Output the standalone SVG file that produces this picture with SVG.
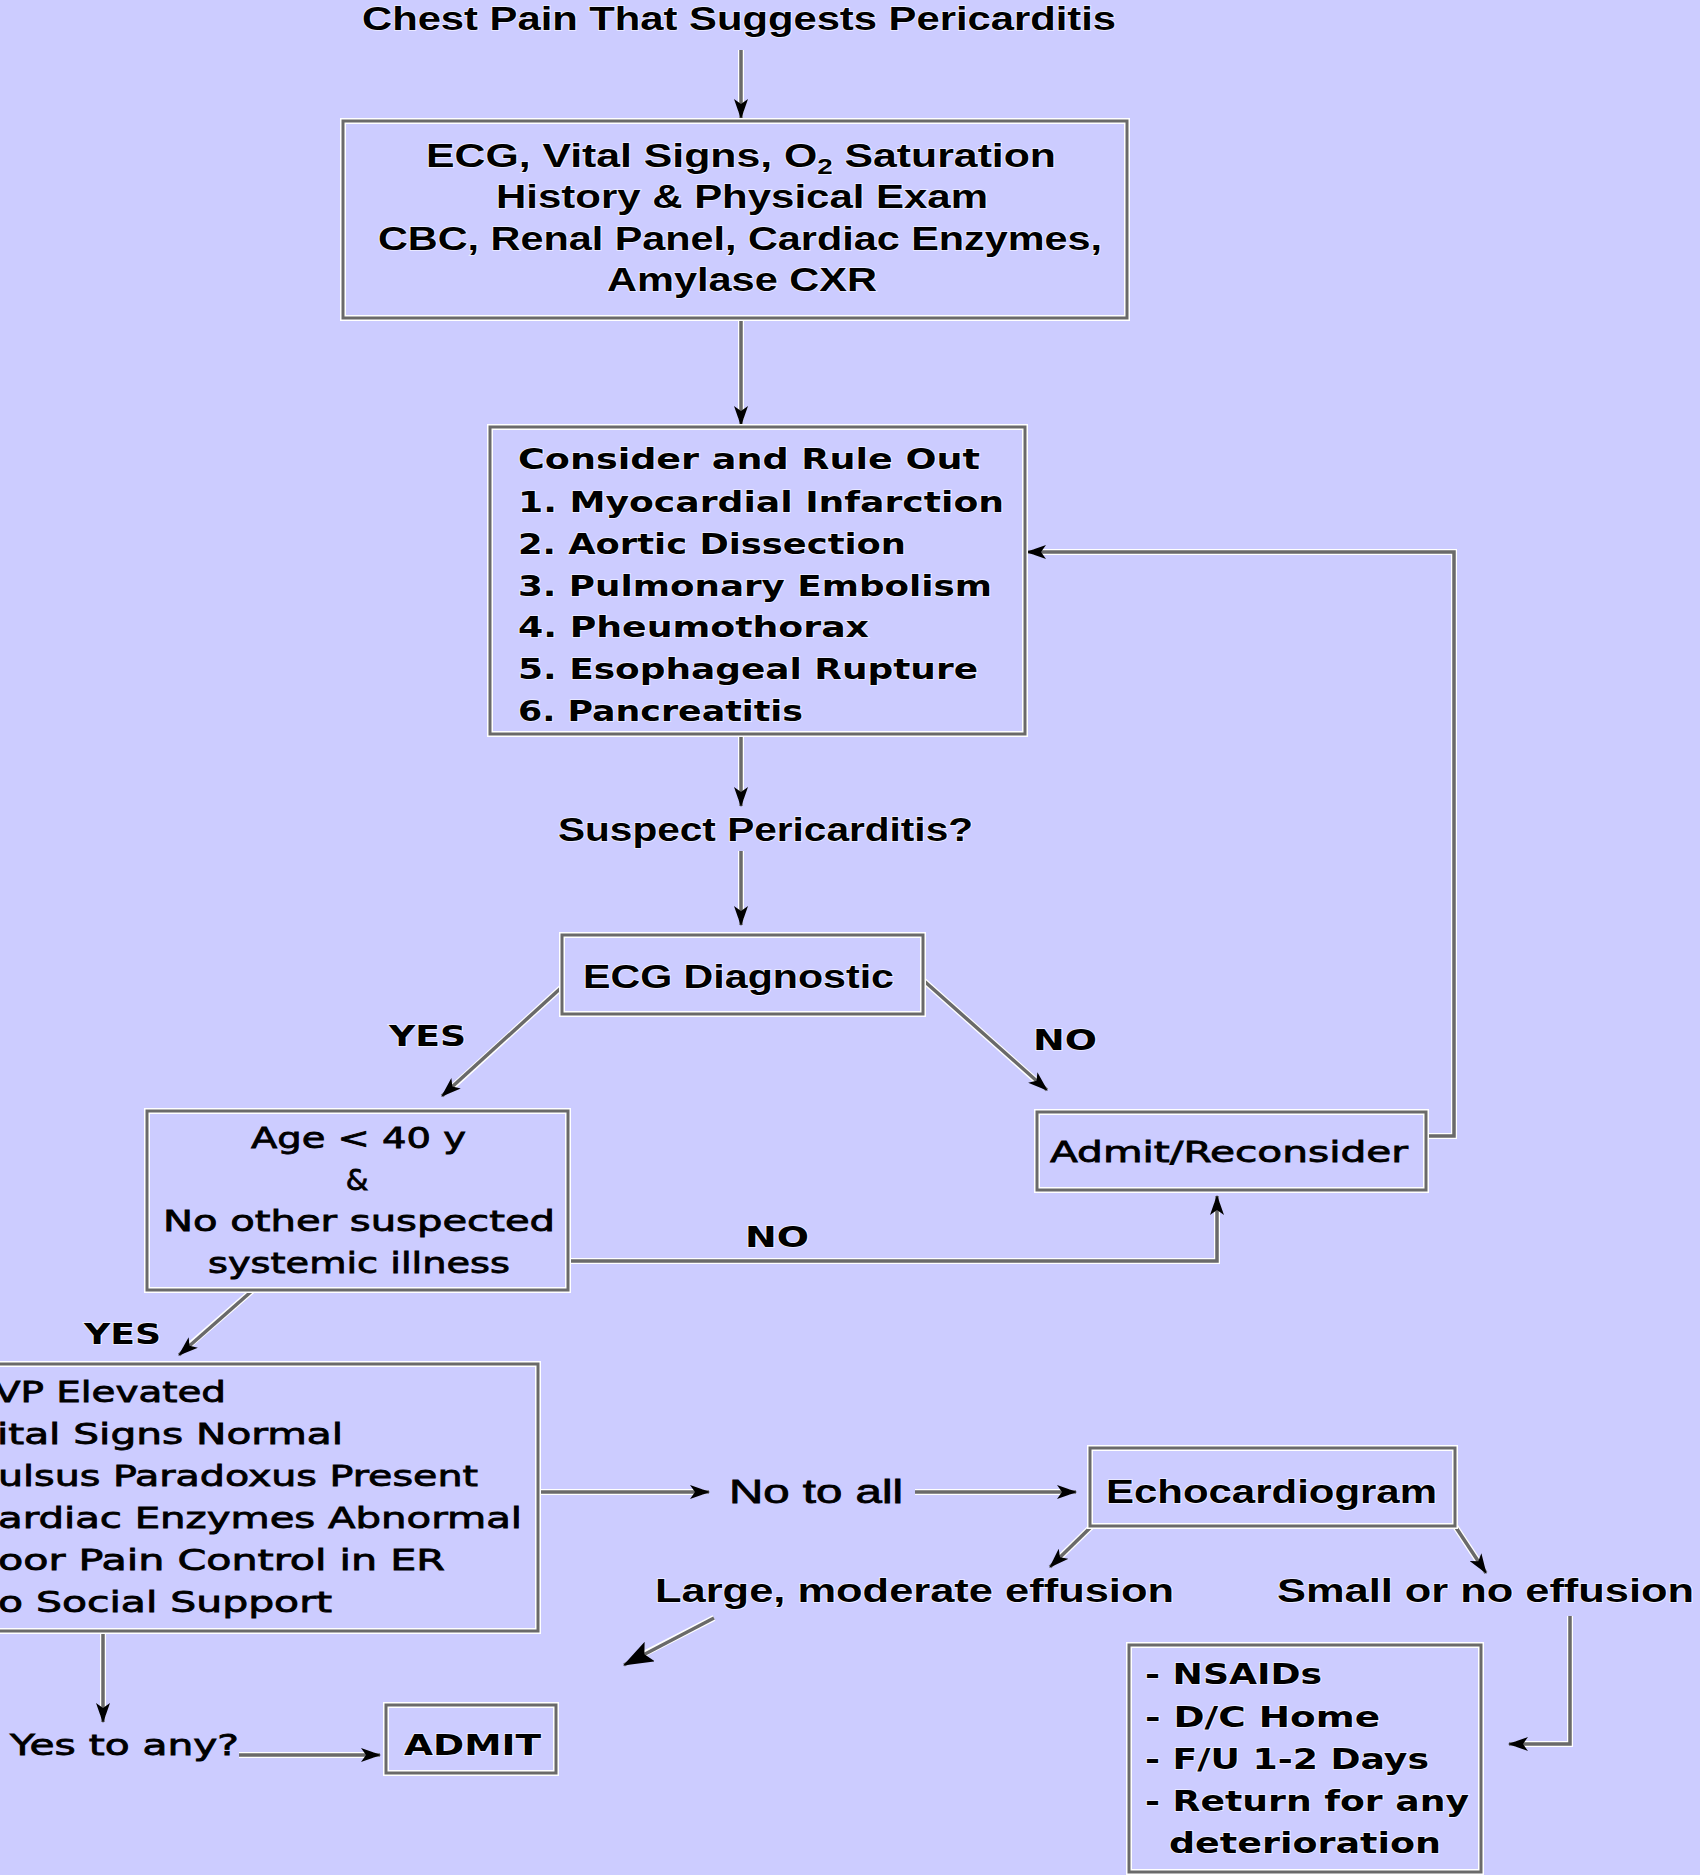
<svg xmlns="http://www.w3.org/2000/svg" width="1700" height="1875" viewBox="0 0 1700 1875">
<defs>
<marker id="ah" viewBox="0 0 20 14" refX="19" refY="7" markerWidth="20" markerHeight="14" markerUnits="userSpaceOnUse" orient="auto">
<path d="M0,0 L20,7 L0,14 L5,7 Z" fill="#000"/>
</marker>
<marker id="ahb" viewBox="0 0 30 22" refX="29" refY="11" markerWidth="30" markerHeight="22" markerUnits="userSpaceOnUse" orient="auto">
<path d="M0,0 L30,11 L0,22 L6,11 Z" fill="#000"/>
</marker>
<style>
.bg{fill:#ccccff}
.box{fill:none;stroke:#ffffff;stroke-width:6}
.boxi{fill:none;stroke:#6a6a6a;stroke-width:3}
.c{fill:none;stroke:#6a6a6a;stroke-width:3.5}
.ch{fill:none;stroke:#ffffff;stroke-width:6}
.n{font-family:"Liberation Sans",Arial,sans-serif;font-weight:bold;font-size:34px;fill:#000;stroke:#ffffff;stroke-width:1.6;stroke-opacity:0.7;paint-order:stroke}
.d{font-family:"DejaVu Sans",Verdana,sans-serif;font-weight:bold;font-size:29px;fill:#000;stroke:#ffffff;stroke-width:1.6;stroke-opacity:0.7;paint-order:stroke}
.r{font-family:"DejaVu Sans",Verdana,sans-serif;font-weight:normal;font-size:29px;fill:#000;stroke:#000;stroke-width:0.8}
.rn{font-family:"Liberation Sans",Arial,sans-serif;font-weight:normal;font-size:34px;fill:#000;stroke:#000;stroke-width:0.8}
</style>
</defs>
<rect class="bg" x="0" y="0" width="1700" height="1875"/>

<g id="connectors">
<g class="ch">
<path d="M741,50 V112"/><path d="M741,318 V419"/><path d="M741,734 V800"/><path d="M741,851 V919"/>
<path d="M562,987 L448,1091"/><path d="M923,980 L1041,1085"/>
<path d="M1426,1136 H1454 V552 H1033"/>
<path d="M568,1261 H1217 V1202"/>
<path d="M253,1290 L185,1349"/>
<path d="M538,1492 H703"/><path d="M915,1492 H1070"/>
<path d="M1092,1526 L1055,1562"/><path d="M1455,1526 L1482,1567"/>
<path d="M714,1618 L632,1660"/>
<path d="M1570,1616 V1744 H1515"/>
<path d="M103,1631 V1716"/><path d="M239,1755 H374"/>
</g>
<g class="c">
<path d="M741,50 V118" marker-end="url(#ah)"/>
<path d="M741,318 V425" marker-end="url(#ah)"/>
<path d="M741,734 V806" marker-end="url(#ah)"/>
<path d="M741,851 V925" marker-end="url(#ah)"/>
<path d="M562,987 L442,1096" marker-end="url(#ah)"/>
<path d="M923,980 L1047,1090" marker-end="url(#ah)"/>
<path d="M1426,1136 H1454 V552 H1027" marker-end="url(#ah)"/>
<path d="M568,1261 H1217 V1196" marker-end="url(#ah)"/>
<path d="M253,1290 L179,1355" marker-end="url(#ah)"/>
<path d="M538,1492 H709" marker-end="url(#ah)"/>
<path d="M915,1492 H1076" marker-end="url(#ah)"/>
<path d="M1092,1526 L1050,1567" marker-end="url(#ah)"/>
<path d="M1455,1526 L1486,1573" marker-end="url(#ah)"/>
<path d="M714,1618 L624,1665" marker-end="url(#ahb)"/>
<path d="M1570,1616 V1744 H1509" marker-end="url(#ah)"/>
<path d="M103,1631 V1722" marker-end="url(#ah)"/>
<path d="M239,1755 H380" marker-end="url(#ah)"/>
</g>
<text class="d" x="389" y="1046" textLength="77" lengthAdjust="spacingAndGlyphs">YES</text>
<text class="d" x="1033" y="1050" textLength="64" lengthAdjust="spacingAndGlyphs">NO</text>
<text class="d" x="745" y="1247" textLength="64" lengthAdjust="spacingAndGlyphs">NO</text>
<text class="d" x="84" y="1344" textLength="77" lengthAdjust="spacingAndGlyphs">YES</text>
<text class="rn" x="729" y="1503" textLength="174" lengthAdjust="spacingAndGlyphs">No to all</text>
<text class="n" x="655" y="1602" textLength="519" lengthAdjust="spacingAndGlyphs">Large, moderate effusion</text>
<text class="n" x="1277" y="1602" textLength="417" lengthAdjust="spacingAndGlyphs">Small or no effusion</text>
<text class="r" x="10" y="1755" textLength="229" lengthAdjust="spacingAndGlyphs">Yes to any?</text>
</g>

<g id="title">
<text class="n" x="362" y="30" textLength="754" lengthAdjust="spacingAndGlyphs">Chest Pain That Suggests Pericarditis</text>
</g>

<g id="initial-workup">
<rect class="box" x="343" y="121" width="784" height="197"/>
<rect class="boxi" x="343" y="121" width="784" height="197"/>
<text class="n" x="426" y="167" textLength="630" lengthAdjust="spacingAndGlyphs">ECG, Vital Signs, O<tspan font-size="22" dy="7">2</tspan><tspan dy="-7"> Saturation</tspan></text>
<text class="n" x="496" y="208" textLength="492" lengthAdjust="spacingAndGlyphs">History &amp; Physical Exam</text>
<text class="n" x="378" y="250" textLength="724" lengthAdjust="spacingAndGlyphs">CBC, Renal Panel, Cardiac Enzymes,</text>
<text class="n" x="607" y="291" textLength="270" lengthAdjust="spacingAndGlyphs">Amylase CXR</text>
</g>

<g id="rule-out">
<rect class="box" x="490" y="427" width="535" height="307"/>
<rect class="boxi" x="490" y="427" width="535" height="307"/>
<text class="d" x="518" y="469" textLength="462" lengthAdjust="spacingAndGlyphs">Consider and Rule Out</text>
<text class="d" x="518" y="512" textLength="486" lengthAdjust="spacingAndGlyphs">1. Myocardial Infarction</text>
<text class="d" x="518" y="554" textLength="388" lengthAdjust="spacingAndGlyphs">2. Aortic Dissection</text>
<text class="d" x="518" y="596" textLength="474" lengthAdjust="spacingAndGlyphs">3. Pulmonary Embolism</text>
<text class="d" x="518" y="637" textLength="351" lengthAdjust="spacingAndGlyphs">4. Pheumothorax</text>
<text class="d" x="518" y="679" textLength="460" lengthAdjust="spacingAndGlyphs">5. Esophageal Rupture</text>
<text class="d" x="518" y="721" textLength="285" lengthAdjust="spacingAndGlyphs">6. Pancreatitis</text>
</g>

<g id="suspect">
<text class="n" x="558" y="841" textLength="415" lengthAdjust="spacingAndGlyphs">Suspect Pericarditis?</text>
</g>

<g id="ecg-diagnostic">
<rect class="box" x="562" y="935" width="361" height="79"/>
<rect class="boxi" x="562" y="935" width="361" height="79"/>
<text class="n" x="583" y="988" textLength="311" lengthAdjust="spacingAndGlyphs">ECG Diagnostic</text>
</g>

<g id="admit-reconsider">
<rect class="box" x="1037" y="1112" width="389" height="78"/>
<rect class="boxi" x="1037" y="1112" width="389" height="78"/>
<text class="r" x="1050" y="1162" textLength="358" lengthAdjust="spacingAndGlyphs">Admit/Reconsider</text>
</g>

<g id="age">
<rect class="box" x="147" y="1111" width="421" height="179"/>
<rect class="boxi" x="147" y="1111" width="421" height="179"/>
<text class="r" x="251" y="1148" textLength="215" lengthAdjust="spacingAndGlyphs">Age &lt; 40 y</text>
<text class="r" x="357" y="1190" text-anchor="middle">&amp;</text>
<text class="r" x="163" y="1231" textLength="392" lengthAdjust="spacingAndGlyphs">No other suspected</text>
<text class="r" x="208" y="1273" textLength="302" lengthAdjust="spacingAndGlyphs">systemic illness</text>
</g>

<g id="criteria">
<rect class="box" x="-10" y="1364" width="548" height="267"/>
<rect class="boxi" x="-10" y="1364" width="548" height="267"/>
<text class="r" x="-6" y="1402" textLength="232" lengthAdjust="spacingAndGlyphs">VP Elevated</text>
<text class="r" x="-3" y="1444" textLength="346" lengthAdjust="spacingAndGlyphs">ital Signs Normal</text>
<text class="r" x="-2" y="1486" textLength="480" lengthAdjust="spacingAndGlyphs">ulsus Paradoxus Present</text>
<text class="r" x="-2" y="1528" textLength="524" lengthAdjust="spacingAndGlyphs">ardiac Enzymes Abnormal</text>
<text class="r" x="-2" y="1570" textLength="447" lengthAdjust="spacingAndGlyphs">oor Pain Control in ER</text>
<text class="r" x="-2" y="1612" textLength="334" lengthAdjust="spacingAndGlyphs">o Social Support</text>
</g>

<g id="echo">
<rect class="box" x="1090" y="1448" width="365" height="78"/>
<rect class="boxi" x="1090" y="1448" width="365" height="78"/>
<text class="n" x="1106" y="1503" textLength="331" lengthAdjust="spacingAndGlyphs">Echocardiogram</text>
</g>

<g id="admit">
<rect class="box" x="386" y="1705" width="170" height="68"/>
<rect class="boxi" x="386" y="1705" width="170" height="68"/>
<text class="d" x="404" y="1755" textLength="137" lengthAdjust="spacingAndGlyphs">ADMIT</text>
</g>

<g id="treatment">
<rect class="box" x="1129" y="1645" width="352" height="227"/>
<rect class="boxi" x="1129" y="1645" width="352" height="227"/>
<text class="d" x="1145" y="1684" textLength="177" lengthAdjust="spacingAndGlyphs">- NSAIDs</text>
<text class="d" x="1145" y="1727" textLength="235" lengthAdjust="spacingAndGlyphs">- D/C Home</text>
<text class="d" x="1145" y="1769" textLength="284" lengthAdjust="spacingAndGlyphs">- F/U 1-2 Days</text>
<text class="d" x="1145" y="1811" textLength="324" lengthAdjust="spacingAndGlyphs">- Return for any</text>
<text class="d" x="1169" y="1853" textLength="272" lengthAdjust="spacingAndGlyphs">deterioration</text>
</g>
</svg>
